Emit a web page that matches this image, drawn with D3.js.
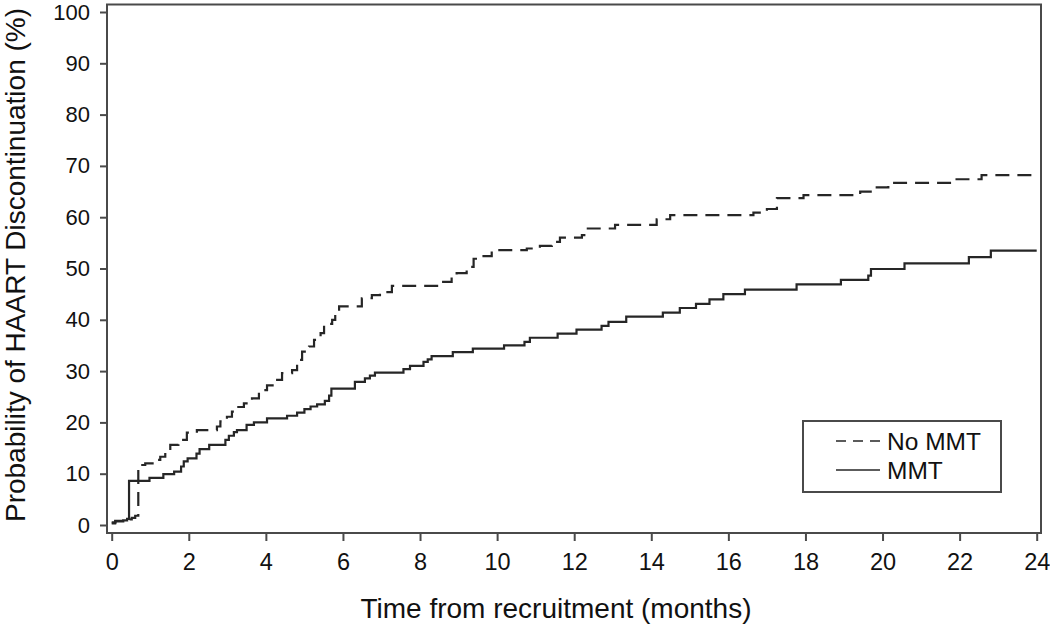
<!DOCTYPE html>
<html>
<head>
<meta charset="utf-8">
<script src="https://cdn.jsdelivr.net/npm/d3@7"></script>
<style>
  html, body { margin: 0; padding: 0; background: #fff; }
  svg { display: block; font-family: "Liberation Sans", Arial, sans-serif; }
</style>
</head>
<body>
<svg id="chart" width="1050" height="628"></svg>
<script>
// ---- data ----
const xTicks = [0, 2, 4, 6, 8, 10, 12, 14, 16, 18, 20, 22, 24];
const yTicks = [0, 10, 20, 30, 40, 50, 60, 70, 80, 90, 100];
const seriesNames = ["No MMT", "MMT"];
const xTitle = "Time from recruitment (months)";
const yTitle = "Probability of HAART Discontinuation (%)";

// [month, cumulative probability %]
const noMmtSteps = [
  [0, 0.3], [0.09, 0.8], [0.35, 1.1], [0.52, 1.4], [0.61, 1.8], [0.69, 11.7],
  [0.87, 12.0], [1.17, 12.7], [1.26, 13.3], [1.39, 14.1], [1.52, 15.6], [1.73, 16.6],
  [1.95, 18.0], [2.21, 18.5], [2.73, 19.2], [2.82, 20.2], [2.99, 21.1], [3.12, 22.1],
  [3.21, 23.0], [3.43, 23.7], [3.64, 24.7], [3.82, 26.3], [4.03, 27.2], [4.25, 28.3],
  [4.42, 29.6], [4.68, 30.2], [4.81, 32.2], [4.94, 33.8], [5.12, 34.8], [5.25, 36.1],
  [5.42, 37.4], [5.51, 39.2], [5.72, 40.0], [5.8, 41.3], [5.9, 42.6], [6.49, 44.2],
  [6.75, 44.8], [6.96, 45.4], [7.27, 46.6], [8.6, 47.4], [8.82, 48.4], [8.95, 49.1],
  [9.21, 50.3], [9.39, 51.9], [9.56, 52.4], [9.86, 53.6], [10.77, 53.9], [11.11, 54.4],
  [11.42, 55.2], [11.63, 56.0], [12.2, 56.5], [12.32, 57.8], [13.06, 58.5], [14.14, 59.6],
  [14.49, 60.4], [16.65, 60.9], [17.0, 61.6], [17.26, 63.7], [17.95, 64.3], [19.42, 65.0],
  [19.85, 65.8], [20.15, 66.7], [21.84, 67.4], [22.57, 68.2], [24, 68.2]
];
const mmtSteps = [
  [0, 0.5], [0.1, 0.7], [0.3, 0.9], [0.4, 1.2], [0.45, 8.6], [0.98, 9.2], [1.34, 9.9],
  [1.62, 10.4], [1.8, 11.4], [1.87, 12.4], [1.97, 13.0], [2.2, 13.9], [2.28, 14.8],
  [2.53, 15.6], [2.95, 16.6], [3.04, 17.4], [3.17, 18.1], [3.25, 18.5], [3.5, 19.5],
  [3.69, 20.0], [4.03, 20.8], [4.55, 21.3], [4.81, 21.9], [5.0, 22.6], [5.16, 23.1],
  [5.33, 23.5], [5.53, 24.2], [5.64, 25.2], [5.7, 26.6], [6.31, 27.9], [6.57, 28.6],
  [6.70, 29.1], [6.83, 29.7], [7.57, 30.4], [7.74, 31.0], [8.09, 31.8], [8.2, 32.3],
  [8.3, 32.9], [8.85, 33.7], [9.37, 34.4], [10.18, 35.0], [10.71, 35.7], [10.85, 36.5],
  [11.57, 37.3], [12.06, 38.1], [12.71, 38.8], [12.89, 39.6], [13.35, 40.6], [14.3, 41.4],
  [14.74, 42.3], [15.16, 43.1], [15.51, 44.0], [15.87, 45.0], [16.43, 45.9], [17.77, 46.9],
  [18.92, 47.8], [19.63, 48.6], [19.7, 49.9], [20.57, 51.0], [22.24, 52.2], [22.81, 53.5],
  [24, 53.5]
];

// ---- layout ----
const frame = { left: 107, right: 1041, top: 4.5, bottom: 533 };
const svg = d3.select("#chart");
const ink = "#262626";
const frameInk = "#4a4a4a";
const textInk = "#111";
const xTickFont = 23.5;
const yTickFont = 22;
const titleFont = 28;
const legendFont = 24.5;

const x = d3.scaleLinear().domain([0, 24]).range([111.7, 1036.7]);
const y = d3.scaleLinear().domain([0, 100]).range([525, 12]);

// frame
svg.append("rect")
  .attr("x", frame.left).attr("y", frame.top)
  .attr("width", frame.right - frame.left).attr("height", frame.bottom - frame.top)
  .attr("fill", "none").attr("stroke", frameInk).attr("stroke-width", 2);

// x axis
const xAxis = svg.append("g")
  .attr("transform", `translate(0,${frame.bottom})`)
  .call(d3.axisBottom(x).tickValues(xTicks).tickSize(8).tickSizeOuter(0).tickPadding(12));
xAxis.select(".domain").remove();
xAxis.selectAll(".tick line").attr("stroke", frameInk).attr("stroke-width", 2);
xAxis.selectAll(".tick text").attr("fill", textInk).attr("font-size", xTickFont)
  .attr("font-family", "Liberation Sans, Arial, sans-serif");

// y axis
const yAxis = svg.append("g")
  .attr("transform", `translate(${frame.left},0)`)
  .call(d3.axisLeft(y).tickValues(yTicks).tickSize(7).tickSizeOuter(0).tickPadding(10));
yAxis.select(".domain").remove();
yAxis.selectAll(".tick line").attr("stroke", frameInk).attr("stroke-width", 2);
yAxis.selectAll(".tick text").attr("fill", textInk).attr("font-size", yTickFont)
  .attr("font-family", "Liberation Sans, Arial, sans-serif");

// titles
svg.append("text")
  .attr("x", 556).attr("y", 618)
  .attr("text-anchor", "middle").attr("font-size", titleFont).attr("fill", textInk)
  .text(xTitle);
svg.append("text")
  .attr("transform", `translate(25,265) rotate(-90)`)
  .attr("text-anchor", "middle").attr("font-size", titleFont).attr("fill", textInk)
  .text(yTitle);

// curves
const line = d3.line().x(d => x(d[0])).y(d => y(d[1])).curve(d3.curveStepAfter);
svg.append("path").datum(noMmtSteps)
  .attr("d", line).attr("fill", "none").attr("stroke", ink)
  .attr("stroke-width", 2.2).attr("stroke-dasharray", "14,8");
svg.append("path").datum(mmtSteps)
  .attr("d", line).attr("fill", "none").attr("stroke", ink)
  .attr("stroke-width", 2.2);

// legend
const legend = svg.append("g");
legend.append("rect")
  .attr("x", 803).attr("y", 421).attr("width", 198).attr("height", 71)
  .attr("fill", "#fff").attr("stroke", frameInk).attr("stroke-width", 2);
const legendRows = [
  { name: seriesNames[0], dash: "10,7", y: 441 },
  { name: seriesNames[1], dash: null, y: 470 }
];
legendRows.forEach(r => {
  legend.append("line")
    .attr("x1", 836).attr("x2", 880).attr("y1", r.y).attr("y2", r.y)
    .attr("stroke", ink).attr("stroke-width", 1.5)
    .attr("stroke-dasharray", r.dash);
  legend.append("text")
    .attr("x", 887).attr("y", r.y + 8.5)
    .attr("font-size", legendFont).attr("fill", textInk)
    .text(r.name);
});
</script>
</body>
</html>
